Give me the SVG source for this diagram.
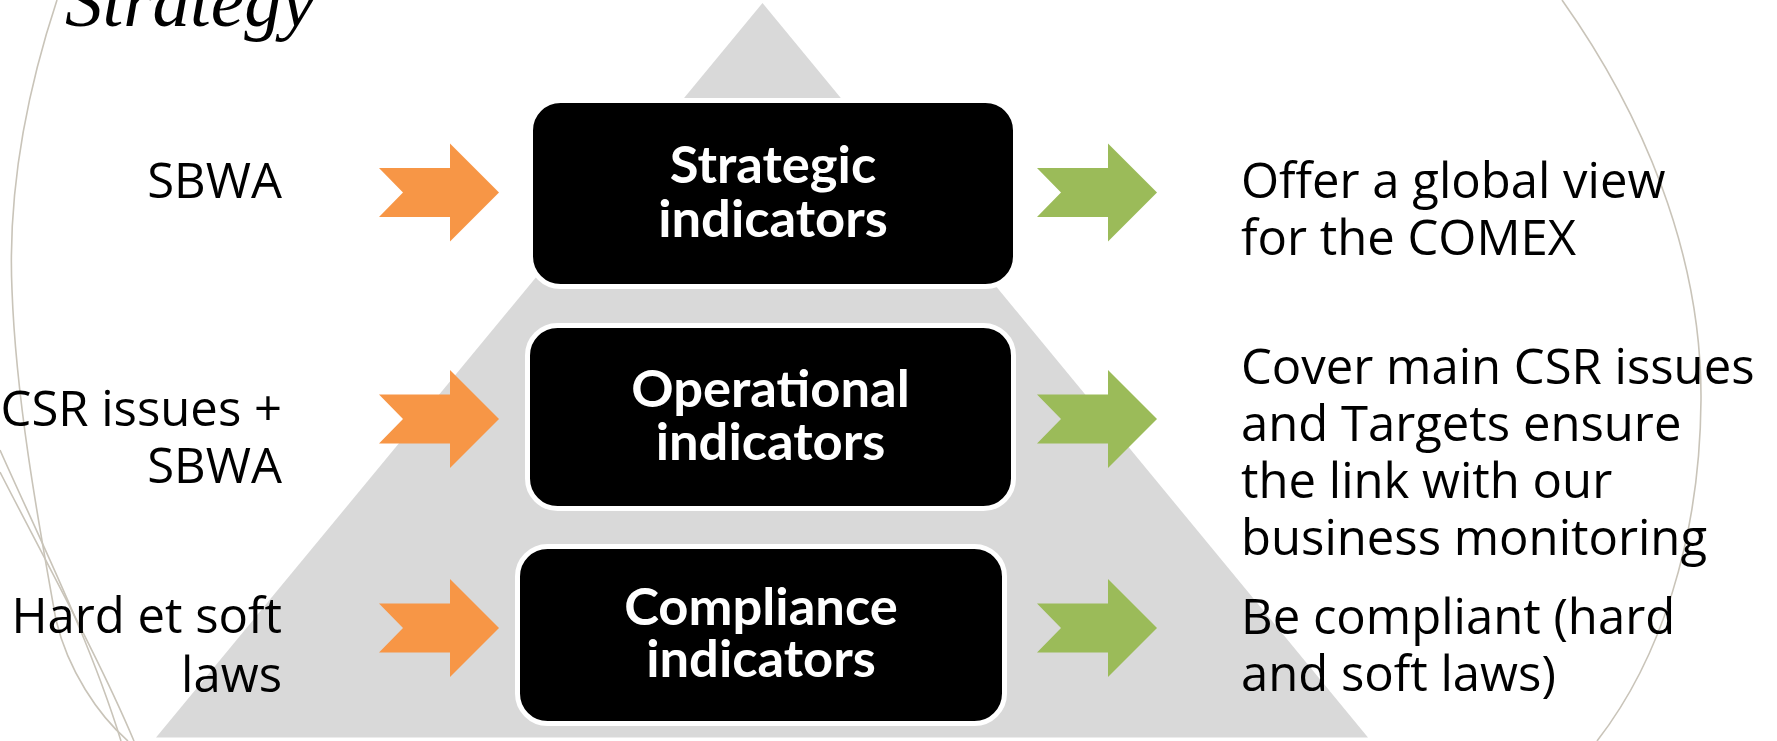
<svg xmlns="http://www.w3.org/2000/svg" xmlns:xlink="http://www.w3.org/1999/xlink" width="1777" height="741" viewBox="0 0 1777 741">
  <style>
    .wisp { fill: none; stroke: #C9C4B9; stroke-width: 1.6; }
    .box { fill: #000000; stroke: #FFFFFF; stroke-width: 5; }
    .boxtxt { font-family: Lato, "Liberation Sans", sans-serif; font-weight: 700; font-size: 52.5px; fill: #FFFFFF; text-anchor: middle; }
    .lbl { font-family: "Open Sans", "Liberation Sans", sans-serif; font-size: 49px; fill: #000000; }
    .lbl-r { text-anchor: end; }
    .title { font-family: "Liberation Serif", "Times New Roman", serif; font-style: italic; font-size: 75px; fill: #000000; }
    .in { fill: #F79646; }
    .out { fill: #9BBB59; }
  </style>
  <defs>
    <path id="chevron" d="M0,-24.5 L71,-24.5 L71,-49 L120,0 L71,49 L71,24.5 L0,24.5 L24,0 Z"/>
  </defs>

  <rect width="1777" height="741" fill="#FFFFFF"/>

  <!-- theme wisps -->
  <g id="wisps">
    <path class="wisp" d="M57,0 C24,100 8,200 12,290 C16,400 38,520 56,620 C68,670 98,715 128,741"/>
    <path class="wisp" d="M0,450 C40,540 90,640 121,741"/>
    <path class="wisp" d="M0,472 C45,560 100,660 134,741"/>
    <path class="wisp" d="M1562,0 C1640,110 1702,250 1701,400 C1700,540 1660,660 1597,741"/>
  </g>

  <text class="title" x="65" y="26">Strategy</text>

  <!-- pyramid backdrop -->
  <polygon id="pyramid" points="762.5,3 156,737.5 1368,737.5" fill="#D9D9D9"/>

  <!-- arrows -->
  <g id="connectors">
    <use xlink:href="#chevron" class="in" transform="translate(379,192.5)"/>
    <use xlink:href="#chevron" class="in" transform="translate(379,419)"/>
    <use xlink:href="#chevron" class="in" transform="translate(379,628)"/>
    <use xlink:href="#chevron" class="out" transform="translate(1037,192.5)"/>
    <use xlink:href="#chevron" class="out" transform="translate(1037,419)"/>
    <use xlink:href="#chevron" class="out" transform="translate(1037,628)"/>
  </g>

  <g id="strategic">
    <rect class="box" x="530.5" y="100.5" width="485" height="186" rx="30"/>
    <text class="boxtxt"><tspan x="773" y="183">Strategic</tspan><tspan x="773" y="237">indicators</tspan></text>
  </g>

  <g id="operational">
    <rect class="box" x="527.5" y="325.5" width="486" height="183" rx="30"/>
    <text class="boxtxt"><tspan x="770.5" y="407">Operational</tspan><tspan x="770.5" y="460">indicators</tspan></text>
  </g>

  <g id="compliance">
    <rect class="box" x="517.5" y="546.5" width="487" height="177" rx="30"/>
    <text class="boxtxt"><tspan x="761" y="625">Compliance</tspan><tspan x="761" y="677">indicators</tspan></text>
  </g>

  <g id="inputs">
    <text class="lbl lbl-r" x="282" y="198">SBWA</text>
    <text class="lbl lbl-r"><tspan x="282" y="426">CSR issues +</tspan><tspan x="282" y="483">SBWA</tspan></text>
    <text class="lbl lbl-r"><tspan x="282" y="633">Hard et soft</tspan><tspan x="282" y="692">laws</tspan></text>
  </g>

  <g id="outcomes">
    <text class="lbl"><tspan x="1241" y="198">Offer a global view</tspan><tspan x="1241" y="255">for the COMEX</tspan></text>
    <text class="lbl"><tspan x="1241" y="384">Cover main CSR issues</tspan><tspan x="1241" y="441">and Targets ensure</tspan><tspan x="1241" y="498">the link with our</tspan><tspan x="1241" y="555">business monitoring</tspan></text>
    <text class="lbl"><tspan x="1241" y="634">Be compliant (hard</tspan><tspan x="1241" y="691">and soft laws)</tspan></text>
  </g>
</svg>
